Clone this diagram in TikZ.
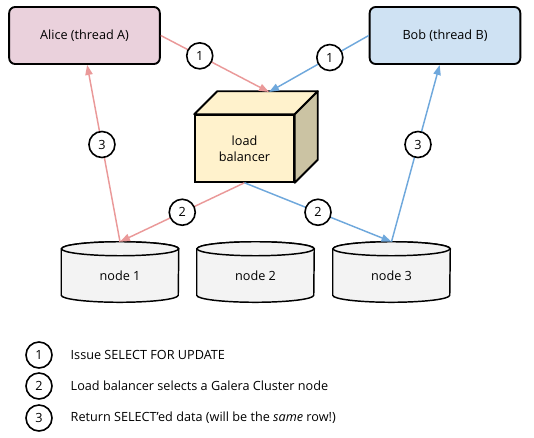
\documentclass[tikz,border=0pt]{standalone}
\usepackage{fontspec}
\setmainfont{Open Sans}
\usetikzlibrary{arrows.meta,positioning,calc}
\definecolor{alicefill}{HTML}{EAD1DC}
\definecolor{bobfill}{HTML}{CFE2F3}
\definecolor{lbfill}{HTML}{FFF2CC}
\definecolor{lbside}{HTML}{CBC3A3}
\definecolor{dbfill}{HTML}{F3F3F3}
\definecolor{pinkline}{HTML}{EA9999}
\definecolor{blueline}{HTML}{6FA8DC}
\tikzset{
  szal/.style={draw,line width=1.4pt,rounded corners=4.5pt,minimum width=113pt,minimum height=42.75pt},
  kocka/.style={draw,line width=1.4pt,fill=lbfill,minimum width=74pt,minimum height=50pt,align=center},
  db/.style={inner sep=0pt,minimum width=87.75pt,minimum height=45pt},
  henger/.style={draw,line width=1.1pt,fill=dbfill,line join=round},
  szam/.style={circle,draw=black,text=black,line width=1.2pt,fill=white,inner sep=0pt,minimum size=19.5pt},
  nyil/.style={line width=1.1pt,-{Triangle[length=7.5pt,width=5.5pt]}},
}
\begin{document}
\begin{tikzpicture}[x=0.75pt,y=-0.75pt,font=\fontsize{9.5}{12}\selectfont]
  \useasboundingbox (0,0) rectangle (534,437);
  \node[szal,fill=alicefill] (alice) at (84.5,35.5) {Alice (thread A)};
  \node[szal,fill=bobfill] (bob) at (445,35.5) {Bob (thread B)};
  \node[kocka] (lb) at (244.5,148.5) {load\\balancer};
  \filldraw[line width=1.4pt,line join=round,fill=lbfill] (lb.north west) -- ($(lb.north west)+(23,-23)$)
    -- ($(lb.north east)+(23,-23)$) -- (lb.north east) -- cycle;
  \filldraw[line width=1.4pt,line join=round,fill=lbside] (lb.north east) -- ($(lb.north east)+(23,-23)$)
    -- ($(lb.south east)+(23,-23)$) -- (lb.south east) -- cycle;
  \coordinate (lbtop) at (269,92);
  % adatbazis hengerek
  \foreach \n/\x/\t in {n1/120/node 1,n2/255.5/node 2,n3/391.5/node 3}{
    \node[db] (\n) at (\x,272) {};
    \filldraw[henger] ($(\n.north west)+(0,7)$) -- ($(\n.south west)+(0,-7)$)
      arc[start angle=180,end angle=0,x radius=58.5,y radius=7]
      -- ($(\n.north east)+(0,7)$) arc[start angle=0,end angle=-180,x radius=58.5,y radius=7] -- cycle;
    \draw[henger] ($(\n.north)+(0,7)$) ellipse[x radius=58.5,y radius=7];
    \node at ($(\n.center)+(0,4)$) {\t};
  }
  \draw[nyil,pinkline] (alice.east) -- node[szam,pos=0.36] {1} (lbtop);
  \draw[nyil,blueline] (bob.west) -- node[szam,pos=0.39] {1} (lbtop);
  \draw[nyil,pinkline] (lb.south) -- node[szam,pos=0.5] {2} (n1.north);
  \draw[nyil,blueline] (lb.south) -- node[szam,pos=0.5] {2} (n3.north);
  \draw[nyil,pinkline] (n1.north) -- node[szam,pos=0.55] {3} ([xshift=2]alice.south);
  \draw[nyil,blueline] (n3.north) -- node[szam,pos=0.55] {3} ([xshift=-4]bob.south);
  \node[szam] (k1) at (39,355) {1};
  \node[szam] (k2) at (39,386) {2};
  \node[szam] (k3) at (39,418) {3};
  \node[anchor=west] (t1) at (66,355) {Issue SELECT FOR UPDATE};
  \node[anchor=west] (t2) at (66,386) {Load balancer selects a Galera Cluster node};
  \node[anchor=west] (t3) at (66,418) {Return SELECT’ed data (will be the \textit{same} row!)};
\end{tikzpicture}
\end{document}
